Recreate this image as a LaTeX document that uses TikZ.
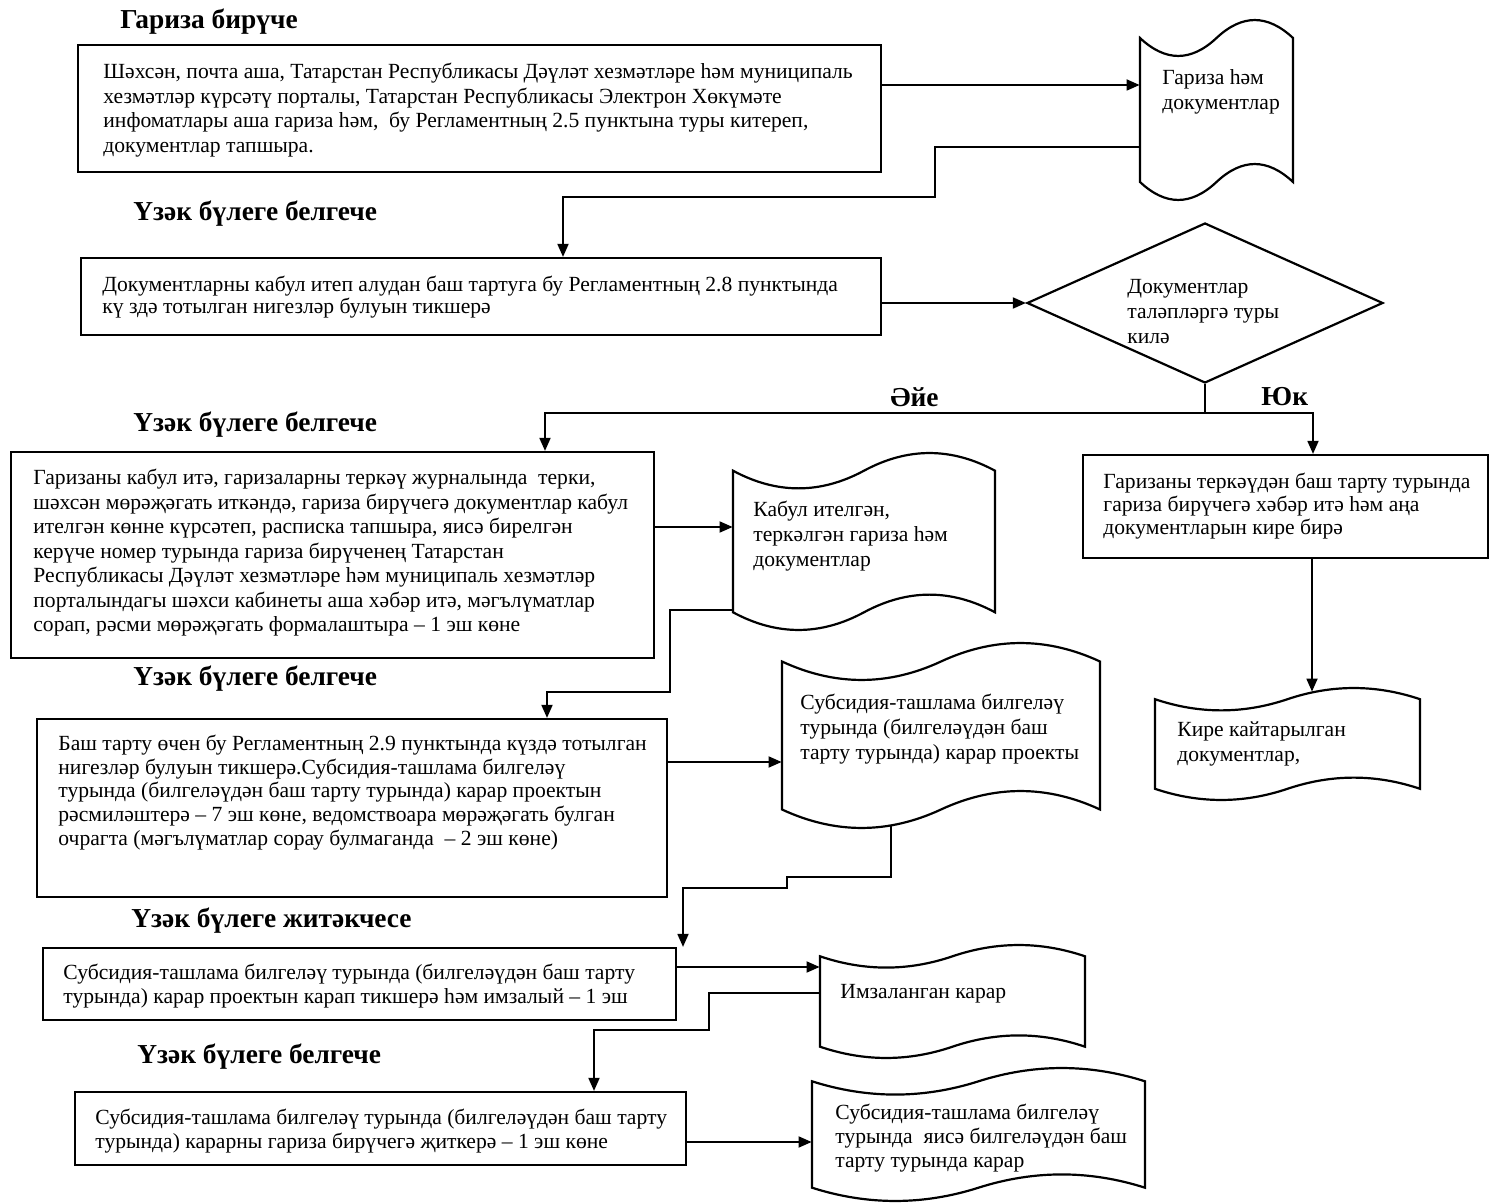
\documentclass[tikz,border=0pt]{standalone}
\usepackage{fontspec}
\setmainfont{Liberation Serif}
\usetikzlibrary{arrows.meta,shapes.geometric,fit,calc}

\tikzset{
  shapeline/.style={line width=1.1pt, black},
  boxnode/.style={draw, line width=1.1pt, inner sep=0pt},
  ln/.style={line width=0.9pt},
  arr/.style={line width=0.9pt, -{Triangle[length=6.5pt,width=5.5pt]}},
  txt/.style={anchor=north west, inner sep=0pt, align=left},
  fA/.style={font=\fontsize{10.8}{12.25}\selectfont},
  fB/.style={font=\fontsize{10.8}{11.25}\selectfont},
  fC/.style={font=\fontsize{10.8}{11.5}\selectfont},
  fD/.style={font=\fontsize{10.8}{12}\selectfont},
  fE/.style={font=\fontsize{10.8}{12.5}\selectfont},
  fF/.style={font=\fontsize{10.8}{11.9}\selectfont},
  head/.style={anchor=west, inner sep=0pt, font=\bfseries\fontsize{13.7}{15}\selectfont},
}

% name, x1, y1, x2, y2 (pixel units)
\newcommand\tapedoc[5]{%
  \node[fit={(#2,#3) (#4,#5)}, inner sep=0pt] (#1) {};
  \draw[shapeline] (#2,{#3+0.1*(#5-#3)})
    .. controls ({#2+(#4-#2)/6},{#3+0.233*(#5-#3)}) and ({#2+(#4-#2)/3},{#3+0.233*(#5-#3)}) .. ({#2+(#4-#2)/2},{#3+0.1*(#5-#3)})
    .. controls ({#2+2*(#4-#2)/3},{#3-0.033*(#5-#3)}) and ({#2+5*(#4-#2)/6},{#3-0.033*(#5-#3)}) .. (#4,{#3+0.1*(#5-#3)})
    -- (#4,{#3+0.9*(#5-#3)})
    .. controls ({#2+5*(#4-#2)/6},{#3+0.767*(#5-#3)}) and ({#2+2*(#4-#2)/3},{#3+0.767*(#5-#3)}) .. ({#2+(#4-#2)/2},{#3+0.9*(#5-#3)})
    .. controls ({#2+(#4-#2)/3},{#3+1.033*(#5-#3)}) and ({#2+(#4-#2)/6},{#3+1.033*(#5-#3)}) .. (#2,{#3+0.9*(#5-#3)})
    -- cycle;
}
\newcommand\boxat[5]{%
  \node[boxnode, fit={(#2,#3) (#4,#5)}] (#1) {};
}

\begin{document}
\begin{tikzpicture}[x=0.5pt,y=-0.5pt]
\fill[white] (0,0) rectangle (1490,1203);
\useasboundingbox (0,0) rectangle (1490,1203);

% headings
\node[head] (h1) at (120,22) {Гариза бирүче};
\node[head] (h2) at (133,214) {Үзәк бүлеге белгече};
\node[head] (h3) at (133,425) {Үзәк бүлеге белгече};
\node[head] (h4) at (133,679) {Үзәк бүлеге белгече};
\node[head] (h5) at (131,921) {Үзәк бүлеге житәкчесе};
\node[head] (h6) at (137,1057) {Үзәк бүлеге белгече};
\node[head] (yes) at (890,397) {Әйе};
\node[head] (no) at (1261,397) {Юк};

% boxes
\boxat{b1}{78}{45}{881}{172}
\node[txt,fA] (t1) at (103,61) {\strut Шәхсән, почта аша, Татарстан Республикасы Дәүләт хезмәтләре һәм муниципаль\\
хезмәтләр күрсәтү порталы, Татарстан Республикасы Электрон Хөкүмәте\\
инфоматлары аша гариза һәм,\ \ бу Регламентның 2.5 пунктына туры китереп,\\
документлар тапшыра.};

\boxat{b2}{81}{258}{881}{335}
\node[txt,fB] (t2) at (102,275) {\strut Документларны кабул итеп алудан баш тартуга бу Регламентның 2.8 пунктында\\
кү здә тотылган нигезләр булуын тикшерә};

\boxat{b3}{11}{452}{654}{658}
\node[txt,fA] (t3) at (33,467) {\strut Гаризаны кабул итә, гаризаларны теркәү журналында\ \ терки,\\
шәхсән мөрәҗәгать иткәндә, гариза бирүчегә документлар кабул\\
ителгән көнне күрсәтеп, расписка тапшыра, яисә бирелгән\\
керүче номер турында гариза бирүченең Татарстан\\
Республикасы Дәүләт хезмәтләре һәм муниципаль хезмәтләр\\
порталындагы шәхси кабинеты аша хәбәр итә, мәгълүматлар\\
сорап, рәсми мөрәҗәгать формалаштыра – 1 эш көне};

\boxat{b4}{1083}{455}{1488}{558}
\node[txt,fC] (t4) at (1103,472) {\strut Гаризаны теркәүдән баш тарту турында\\
гариза бирүчегә хәбәр итә һәм аңа\\
документларын кире бирә};

\boxat{b5}{37}{719}{667}{897}
\node[txt,fF] (t5) at (58,733.3) {\strut Баш тарту өчен бу Регламентның 2.9 пунктында күздә тотылган\\
нигезләр булуын тикшерә.Субсидия-ташлама билгеләү\\
турында (билгеләүдән баш тарту турында) карар проектын\\
рәсмиләштерә – 7 эш көне, ведомствоара мөрәҗәгать булган\\
очрагта (мәгълүматлар сорау булмаганда\ \ – 2 эш көне)};

\boxat{b6}{43}{948}{676}{1020}
\node[txt,fD] (t6) at (63,962) {\strut Субсидия-ташлама билгеләү турында (билгеләүдән баш тарту\\
турында) карар проектын карап тикшерә һәм имзалый – 1 эш};

\boxat{b7}{75}{1092}{686}{1165}
\node[txt,fD] (t7) at (95,1107) {\strut Субсидия-ташлама билгеләү турында (билгеләүдән баш тарту\\
турында) карарны гариза бирүчегә җиткерә – 1 эш көне};

% diamond
\node[diamond, draw, line width=1.1pt, inner sep=0pt, minimum width=178pt, minimum height=80pt] (dia) at (1205,303) {};
\node[txt,fE] (td) at (1127,275.5) {\strut Документлар\\ таләпләргә туры\\ килә};

% documents
\tapedoc{d1}{1140}{20}{1293}{200}
\node[txt,fE] (td1) at (1162,66.5) {\strut Гариза һәм\\ документлар};

\tapedoc{d2}{733}{453}{995}{630}
\node[txt,fE] (td2) at (753,498.5) {\strut Кабул ителгән,\\ теркәлгән гариза һәм\\ документлар};

\tapedoc{d3}{782}{643}{1100}{828}
\node[txt,fE] (td3) at (800,691.5) {\strut Субсидия-ташлама билгеләү\\ турында (билгеләүдән баш\\ тарту турында) карар проекты};

\tapedoc{d4}{1155}{688}{1420}{800}
\node[txt,fE] (td4) at (1177,718.5) {\strut Кире кайтарылган\\ документлар,};

\tapedoc{d5}{820}{945}{1085}{1058}
\node[txt,fE] (td5) at (840,980.5) {\strut Имзаланган карар};

\tapedoc{d6}{812}{1068}{1145}{1201}
\node[txt,fD] (td6) at (835,1102) {\strut Субсидия-ташлама билгеләү\\ турында\ \ яисә билгеләүдән баш\\ тарту турында карар};

% connectors
\draw[arr] (b1.east |- 0,85) -- (d1.west |- 0,85);
\draw[arr] (d1.west |- 0,147) -- (935,147) -- (935,197) -- (563,197) -- (b2.north -| 563,0);
\draw[arr] (dia.west -| b2.east) -- (dia.west);
\coordinate (jn) at (1205,413);
\draw[ln] (dia.south) -- (jn);
\draw[arr] (jn) -- (545,413) -- (b3.north -| 545,0);
\draw[arr] (jn) -- (1313,413) -- (b4.north -| 1313,0);
\draw[arr] (b3.east |- 0,527) -- (d2.west |- 0,527);
\draw[arr] (d2.west |- 0,610) -- (670,610) -- (670,692) -- (547,692) -- (b5.north -| 547,0);
\draw[arr] (b4.south -| 1312,0) -- ([yshift=-2pt]d4.north -| 1312,0);
\draw[arr] (b5.east |- 0,762) -- (d3.west |- 0,762);
\draw[arr] ($(d3.south -| 891,0)+(0,-3)$) -- (891,877) -- (787,877) -- (787,888) -- (683,888) -- (b6.north -| 683,0);
\draw[arr] (b6.east |- 0,967) -- (d5.west |- 0,967);
\draw[arr] (d5.west |- 0,993) -- (709,993) -- (709,1030) -- (594,1030) -- (b7.north -| 594,0);
\draw[arr] (b7.east |- 0,1142) -- (d6.west |- 0,1142);
\end{tikzpicture}
\end{document}
